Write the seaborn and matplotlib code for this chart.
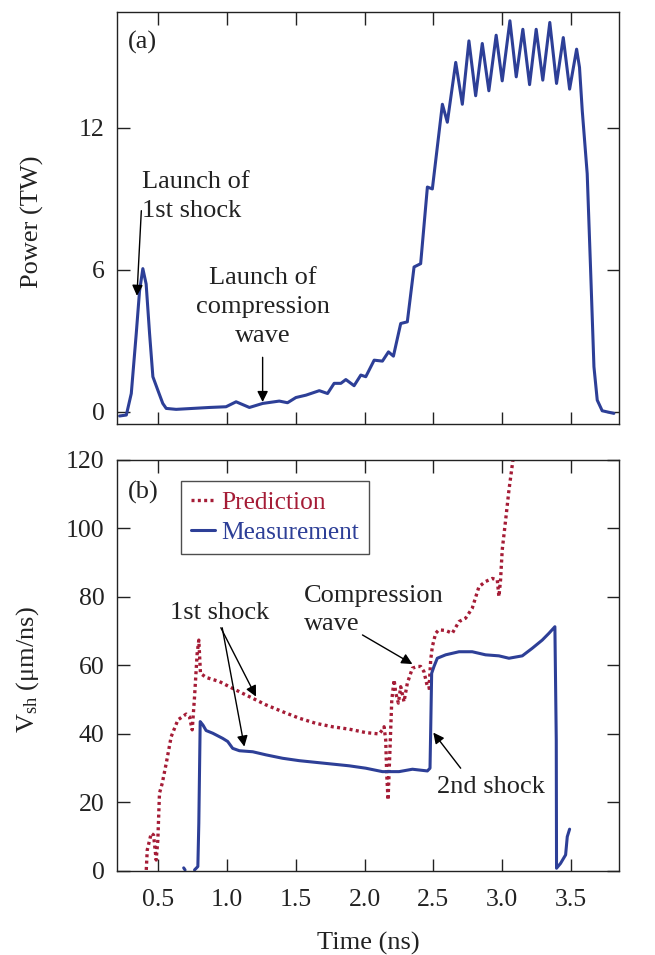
import numpy as np
import pandas as pd
import matplotlib
matplotlib.use("Agg")
import matplotlib.pyplot as plt
import seaborn as sns
from matplotlib.lines import Line2D

# ---- Data ----
power_t = [0.219, 0.268, 0.304, 0.340, 0.364, 0.388, 0.412, 0.437, 0.461, 0.497, 0.533, 0.558,
           0.63, 0.751, 0.872, 0.993, 1.066, 1.163, 1.259, 1.38, 1.44, 1.501, 1.574, 1.671,
           1.731, 1.779, 1.828, 1.864, 1.924, 1.973, 2.009, 2.07, 2.13, 2.174, 2.21, 2.263,
           2.311, 2.36, 2.408, 2.457, 2.493, 2.566, 2.602, 2.663, 2.711, 2.759, 2.808, 2.856,
           2.904, 2.957, 3.001, 3.057, 3.103, 3.151, 3.2, 3.248, 3.296, 3.347, 3.396, 3.445,
           3.491, 3.542, 3.563, 3.583, 3.619, 3.643, 3.668, 3.692, 3.728, 3.813]
power_tw = [-0.18, -0.14, 0.77, 3.3, 5.1, 6.05, 5.4, 3.3, 1.48, 0.91, 0.35, 0.14,
            0.10, 0.14, 0.18, 0.21, 0.42, 0.18, 0.35, 0.45, 0.38, 0.60, 0.70, 0.89,
            0.77, 1.2, 1.2, 1.36, 1.1, 1.55, 1.48, 2.18, 2.14, 2.53, 2.35, 3.73,
            3.8, 6.12, 6.26, 9.5, 9.42, 13.0, 12.24, 14.77, 13.0, 15.68, 13.36, 15.57,
            13.57, 15.92, 13.99, 16.53, 14.16, 16.17, 13.83, 16.17, 14.02, 16.46, 13.88, 15.82,
            13.64, 15.33, 14.56, 12.73, 10.06, 6.12, 1.9, 0.49, 0.04, -0.07]

pred_t = [0.413, 0.42, 0.449, 0.466, 0.485, 0.497, 0.509, 0.529, 0.558, 0.594, 0.643, 0.703,
          0.727, 0.747, 0.764, 0.783, 0.795, 0.807, 0.848, 0.945, 1.041, 1.162, 1.283, 1.404,
          1.525, 1.646, 1.767, 1.888, 2.009, 2.106, 2.13, 2.142, 2.154, 2.161, 2.171, 2.183,
          2.198, 2.215, 2.227, 2.246, 2.263, 2.287, 2.311, 2.348, 2.384, 2.408, 2.432, 2.457,
          2.469, 2.481, 2.493, 2.517, 2.541, 2.59, 2.638, 2.687, 2.735, 2.783, 2.832, 2.88,
          2.929, 2.965, 2.977, 2.989, 3.001, 3.026, 3.05, 3.079, 3.086]
pred_v = [0.3, 6.1, 11.0, 10.5, 3.2, 9.0, 22.7, 25.6, 31.4, 39.2, 44.1, 45.8,
          45.0, 41.2, 50.9, 63.5, 67.4, 57.7, 56.5, 55.3, 53.3, 50.9, 48.5, 46.5,
          44.6, 43.1, 42.1, 41.4, 40.4, 40.0, 41.2, 42.1, 38.2, 28.5, 20.7, 33.4,
          49.9, 55.8, 51.9, 49.0, 53.8, 49.4, 54.8, 59.2, 59.7, 59.7, 58.2, 53.8,
          53.3, 61.6, 65.5, 69.4, 70.4, 70.2, 69.4, 72.8, 73.8, 76.7, 83.0, 84.5,
          85.4, 85.0, 80.1, 85.0, 93.7, 102.5, 111.2, 120.0, 124.0]

meas_t = [0.685, 0.695, np.nan, 0.764, 0.788, 0.795, 0.805, 0.825, 0.848, 0.897, 0.969, 1.005,
          1.041, 1.09, 1.187, 1.283, 1.404, 1.525, 1.646, 1.767, 1.888, 2.009, 2.13, 2.251,
          2.348, 2.457, 2.476, 2.481, 2.488, 2.505, 2.529, 2.59, 2.687, 2.783, 2.88, 2.977,
          3.05, 3.147, 3.219, 3.292, 3.341, 3.384, 3.394, 3.396, 3.425, 3.462, 3.474, 3.491]
meas_v = [0.9, 0.3, np.nan, 0.3, 1.3, 13.9, 43.6, 42.6, 41.0, 40.2, 38.7, 37.8,
          35.8, 35.1, 34.8, 33.9, 32.9, 32.2, 31.7, 31.2, 30.7, 30.0, 29.0, 29.0,
          29.7, 29.2, 30.0, 41.2, 57.7, 59.7, 62.1, 63.1, 64.0, 64.0, 63.1, 62.8,
          62.1, 62.8, 65.0, 67.4, 69.4, 71.3, 38.2, 0.8, 2.2, 4.7, 10.0, 12.2]

x_ticks = [0.5, 1.0, 1.5, 2.0, 2.5, 3.0, 3.5]
x_ticklabels = ["0.5", "1.0", "1.5", "2.0", "2.5", "3.0", "3.5"]
p_ticks = [0, 6, 12]
v_ticks = [0, 20, 40, 60, 80, 100, 120]

BLUE = "#2D3F97"
RED = "#A51C36"
INK = "#222222"

# ---- Style ----
sns.set_theme(style="ticks")
plt.rcParams["font.family"] = ["Liberation Serif", "DejaVu Serif"]
plt.rcParams["mathtext.fontset"] = "custom"
plt.rcParams["mathtext.rm"] = "Liberation Serif"
plt.rcParams["mathtext.it"] = "Liberation Serif:italic"
plt.rcParams["axes.edgecolor"] = INK
plt.rcParams["axes.linewidth"] = 1.0
FS = 19
TFS = 18.5
LFS = 18.3

fig = plt.figure(figsize=(6.55, 9.55), dpi=100)
ax1 = fig.add_axes([0.1786, 0.556, 0.7664, 0.4314])
ax2 = fig.add_axes([0.1786, 0.088, 0.7664, 0.4304])

DOT = (0, (0.9, 1.0))

df_p = pd.DataFrame({"t": power_t, "P": power_tw})
sns.lineplot(data=df_p, x="t", y="P", ax=ax1, color=BLUE, lw=2.2, sort=False, estimator=None)

df_pred = pd.DataFrame({"t": pred_t, "V": pred_v})
sns.lineplot(data=df_pred, x="t", y="V", ax=ax2, color=RED, lw=2.4, sort=False,
             estimator=None, linestyle=DOT)

mt = np.array(meas_t, dtype=float)
mv = np.array(meas_v, dtype=float)
seg = np.cumsum(np.isnan(mt))
df_meas = pd.DataFrame({"t": mt, "V": mv, "seg": seg}).dropna()
sns.lineplot(data=df_meas, x="t", y="V", units="seg", ax=ax2, color=BLUE, lw=2.2,
             sort=False, estimator=None)

for ax in (ax1, ax2):
    ax.set_xlim(0.2, 3.85)
    ax.set_xticks(x_ticks)
    ax.tick_params(direction="in", top=True, right=True, length=9, width=1.0,
                   labelsize=TFS, colors=INK, labelcolor=INK)
    ax.tick_params(axis="y", pad=9)
    ax.tick_params(axis="x", pad=13)
    ax.set_xlabel("")
    ax.set_ylabel("")
    for s in ax.spines.values():
        s.set_visible(True)

ax1.set_ylim(-0.52, 16.9)
ax1.set_yticks(p_ticks)
ax1.set_yticklabels([str(v) for v in p_ticks])
ax1.set_xticklabels([])

ax2.set_ylim(0, 120)
ax2.set_yticks(v_ticks)
ax2.set_yticklabels([str(v) for v in v_ticks])
ax2.set_xticklabels(x_ticklabels)

ax1.set_ylabel("Power (TW)", fontsize=FS, color=INK)
ax1.yaxis.set_label_coords(-0.145, 0.49)
ax2.set_ylabel(r"V$_\mathrm{sh}$ (μm/ns)", fontsize=FS, color=INK)
ax2.yaxis.set_label_coords(-0.152, 0.49)
ax2.set_xlabel("Time (ns)", fontsize=FS, color=INK, labelpad=15)

ax1.text(0.022, 0.925, "(a)", transform=ax1.transAxes, fontsize=FS, va="center", ha="left",
         color=INK)
ax2.text(0.022, 0.92, "(b)", transform=ax2.transAxes, fontsize=FS, va="center", ha="left",
         color=INK)

arrow = dict(arrowstyle="-|>", color="black", lw=1.0, mutation_scale=16,
             shrinkA=0, shrinkB=0)

# Panel (a) annotations
ax1.text(0.384, 9.1, "Launch of\n1st shock", fontsize=FS, ha="left", va="center",
         color=INK, linespacing=1.4)
ax1.annotate("", xy=(0.345, 4.9), xytext=(0.377, 8.5), arrowprops=arrow)
ax1.text(1.259, 4.42, "Launch of\ncompression\nwave", fontsize=FS, ha="center", va="center",
         color=INK, linespacing=1.42)
ax1.annotate("", xy=(1.259, 0.41), xytext=(1.259, 2.3), arrowprops=arrow)

# Panel (b) annotations
ax2.text(0.945, 75.3, "1st shock", fontsize=FS, ha="center", va="center", color=INK)
ax2.annotate("", xy=(1.211, 50.9), xytext=(0.955, 71.0), arrowprops=arrow)
ax2.annotate("", xy=(1.126, 36.3), xytext=(0.965, 71.0), arrowprops=arrow)
ax2.text(1.562, 76.2, "Compression\nwave", fontsize=FS, ha="left", va="center",
         color=INK, linespacing=1.35)
ax2.annotate("", xy=(2.348, 60.4), xytext=(1.985, 68.9), arrowprops=arrow)
ax2.text(2.916, 24.6, "2nd shock", fontsize=FS, ha="center", va="center", color=INK)
ax2.annotate("", xy=(2.5, 40.4), xytext=(2.699, 30.0), arrowprops=arrow)

handles = [Line2D([], [], color=RED, lw=2.4, linestyle=DOT),
           Line2D([], [], color=BLUE, lw=2.2)]
leg = ax2.legend(handles, ["Prediction", "Measurement"], loc="upper left",
                 bbox_to_anchor=(0.127, 0.949), fontsize=LFS, frameon=True, fancybox=False,
                 handlelength=0.95, handletextpad=0.25, borderpad=0.4, labelspacing=0.3,
                 borderaxespad=0)
leg.get_frame().set_edgecolor(INK)
leg.get_frame().set_linewidth(1.0)
for txt, c in zip(leg.get_texts(), [RED, BLUE]):
    txt.set_color(c)

fig.savefig("out.png", dpi=100)
